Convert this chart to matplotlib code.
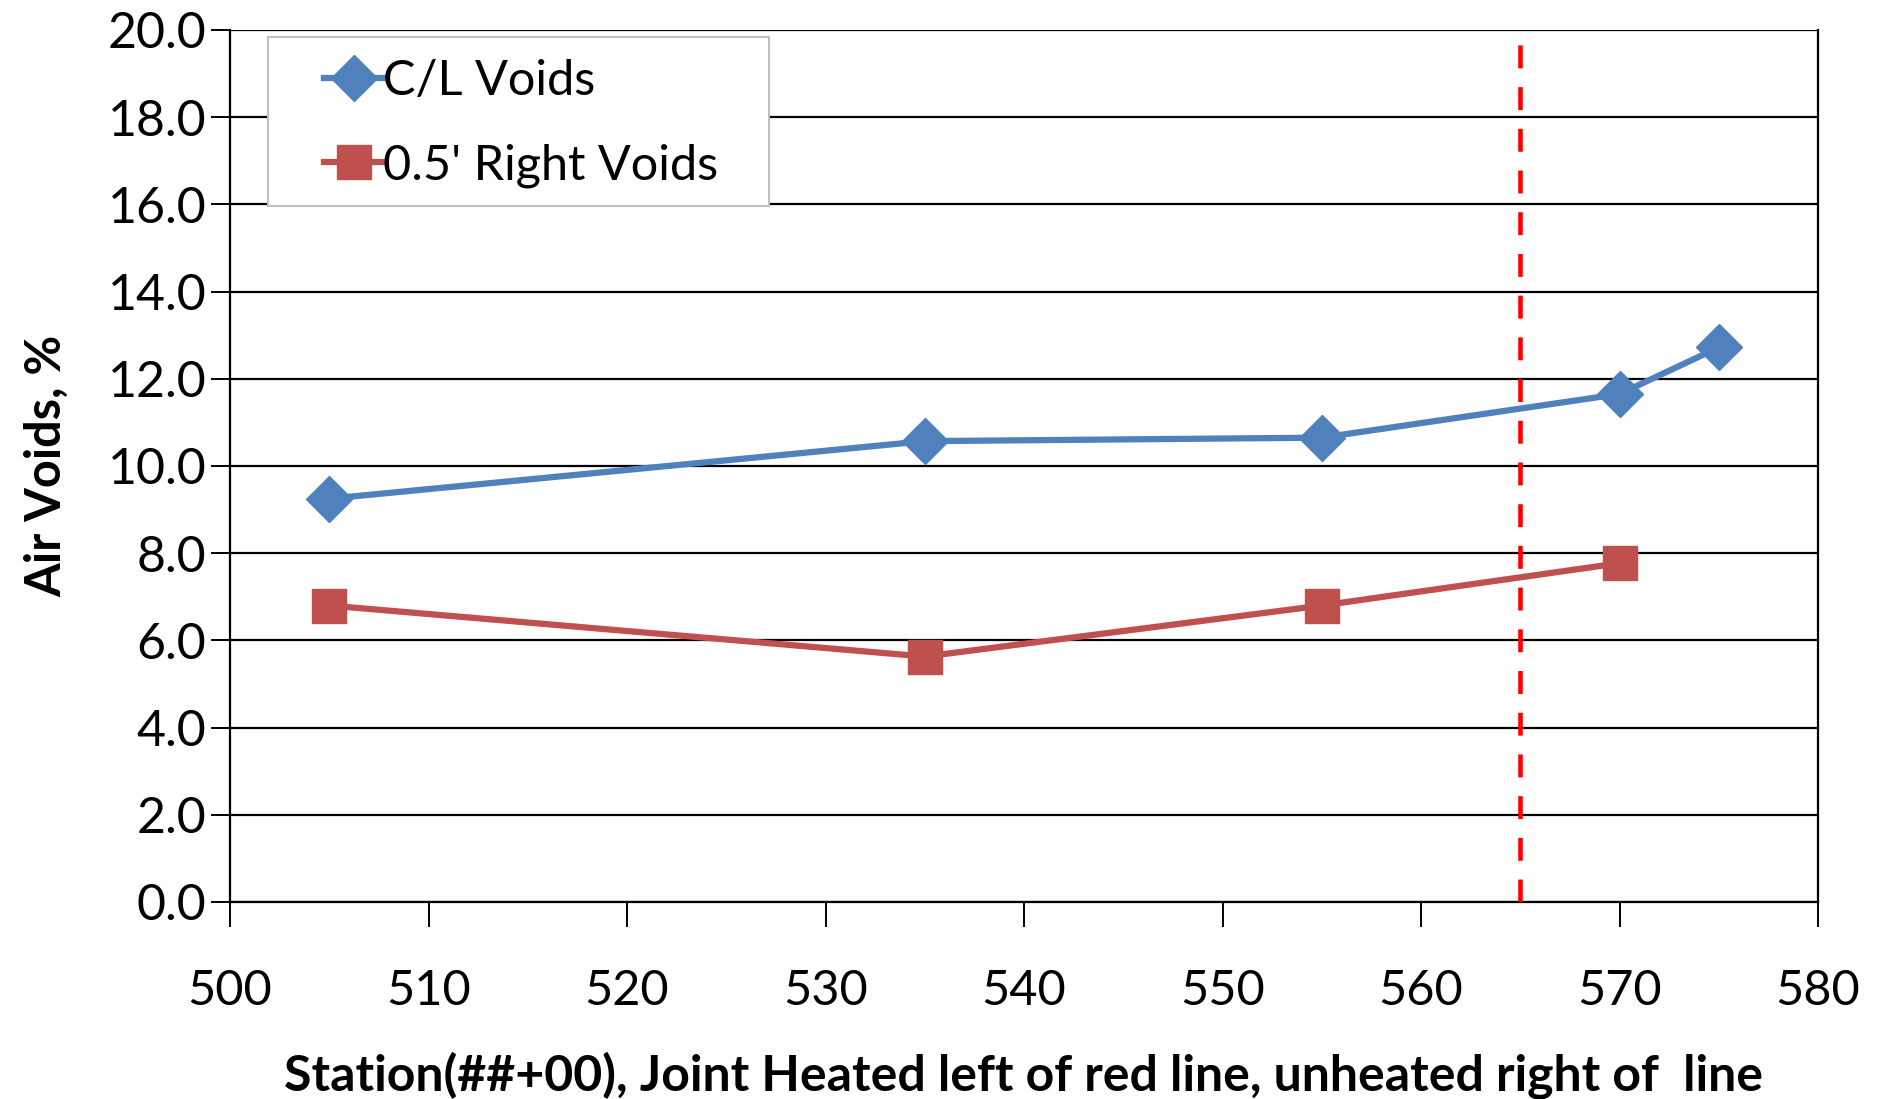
import numpy as np
import matplotlib.pyplot as plt
from matplotlib.patches import Rectangle

plt.rcParams['font.family'] = ['Lato', 'DejaVu Sans']

# stations (##+00)
cl_station = [505, 535, 555, 570, 575]
cl_voids = [9.25, 10.57, 10.65, 11.65, 12.72]
rt_station = [505, 535, 555, 570]
rt_voids = [6.8, 5.63, 6.8, 7.77]
heat_limit = 565

BLUE = "#4F81BD"
RED = "#C0504D"

fig = plt.figure(figsize=(18.79, 10.99), dpi=100)
ax = fig.add_axes([230 / 1879, 1 - 902 / 1099, (1818 - 230) / 1879, (902 - 30) / 1099])

ax.plot(cl_station, cl_voids, color=BLUE, lw=4.5, marker="D", ms=23,
        label="C/L Voids", zorder=4)
ax.plot(rt_station, rt_voids, color=RED, lw=4.5, marker="s", ms=24,
        label="0.5' Right Voids", zorder=4)
ax.axvline(heat_limit, color="red", lw=3.3, ls=(0, (5, 4.1)), zorder=3)

ax.set_xlim(500, 580)
ax.set_ylim(0, 20)
ax.set_xticks(np.arange(500, 581, 10))
ax.set_yticks(np.arange(0, 20.1, 2))
ax.set_yticklabels([f"{v:.1f}" for v in np.arange(0, 20.1, 2)])
ax.grid(axis="y", color="black", lw=1.6)
ax.set_axisbelow(True)
for s in ax.spines.values():
    s.set_color("black")
    s.set_linewidth(1.6)
ax.spines["top"].set_visible(False)

ax.tick_params(axis="x", length=18, width=1.4, pad=30, labelsize=35)
ax.tick_params(axis="y", length=14, width=1.4, pad=3, labelsize=36)

ax.set_xlabel("Station(##+00), Joint Heated left of red line, unheated right of  line",
              fontsize=36, fontweight="bold", labelpad=28)
ax.set_ylabel("Air Voids, %", fontsize=35, fontweight="bold", labelpad=28)

# legend box drawn separately (Excel-style wide side padding)
box = Rectangle((0.024, 0.798), 0.3156, 0.1938, transform=ax.transAxes,
                facecolor="white", edgecolor="#BFBFBF", lw=1.5, zorder=5)
ax.add_patch(box)
leg = ax.legend(loc="upper left", bbox_to_anchor=(0.0595, 0.967), fontsize=35,
                frameon=False, handlelength=1.2, handletextpad=0.0,
                borderpad=0, labelspacing=0.83, borderaxespad=0)
leg.set_zorder(6)

fig.savefig("out.png", dpi=100)
